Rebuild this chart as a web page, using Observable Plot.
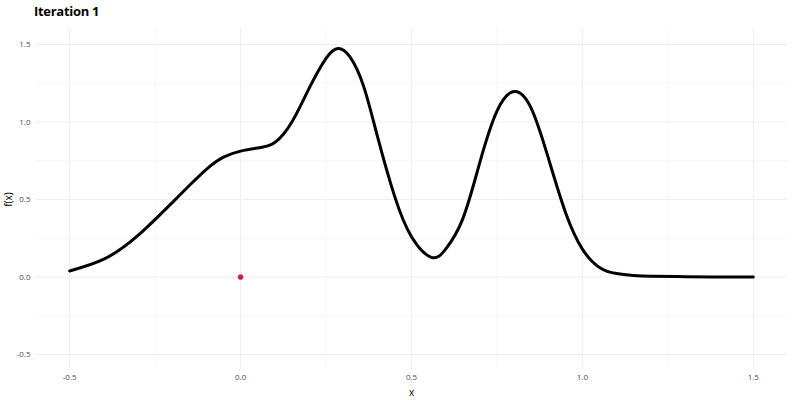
<!DOCTYPE html>
<html>
<head>
<meta charset="utf-8">
<script src="https://cdn.jsdelivr.net/npm/d3@7"></script>
<script src="https://cdn.jsdelivr.net/npm/@observablehq/plot@0.6"></script>
<style>
  html, body { margin: 0; padding: 0; background: #fff; }
  #title { font-family: "Open Sans", "Liberation Sans", sans-serif; font-weight: 700; font-size: 13px; height: 22px; line-height: 22px; padding-left: 34px; letter-spacing: -0.3px; color: #000; }
  svg { display: block; }
</style>
</head>
<body>
<div id="title">Iteration 1</div>
<div id="chart"></div>
<script>
// curve f(x)
const xs = [-0.5, -0.4, -0.3, -0.2, -0.15, -0.1, -0.05, 0.0, 0.05, 0.1, 0.15, 0.2, 0.25, 0.285, 0.32, 0.36, 0.4, 0.45, 0.5, 0.558, 0.6, 0.65, 0.7, 0.75, 0.8, 0.85, 0.9, 0.95, 1.0, 1.05, 1.1, 1.15, 1.2, 1.3, 1.4, 1.5];
const ys = [0.039, 0.115, 0.268, 0.48, 0.59, 0.695, 0.773, 0.812, 0.832, 0.868, 1.0, 1.215, 1.41, 1.474, 1.42, 1.23, 0.91, 0.525, 0.26, 0.127, 0.18, 0.375, 0.74, 1.07, 1.197, 1.09, 0.77, 0.42, 0.18, 0.062, 0.022, 0.01, 0.005, 0.002, 0.0005, 0.0];
// sampled point
const sampleX = [0.0];
const sampleY = [0.0];
// ticks
const xTicks = [-0.5, 0, 0.5, 1, 1.5];
const yTicks = [-0.5, 0, 0.5, 1, 1.5];
const xMinor = [-0.25, 0.25, 0.75, 1.25];
const yMinor = [-0.25, 0.25, 0.75, 1.25];

const curve = xs.map((x, i) => ({x, y: ys[i]}));
const pts = sampleX.map((x, i) => ({x, y: sampleY[i]}));
const fmt = d => d.toFixed(1);

const plot = Plot.plot({
  width: 800,
  height: 378,
  marginLeft: 35,
  marginRight: 13,
  marginTop: 6.5,
  marginBottom: 30.5,
  style: { fontFamily: "'Open Sans', 'Liberation Sans', sans-serif", background: "#fff" },
  x: { domain: [-0.6, 1.6] },
  y: { domain: [-0.6, 1.6] },
  marks: [
    Plot.ruleX(xMinor, { stroke: "#f2f2f2", strokeWidth: 0.6 }),
    Plot.ruleY(yMinor, { stroke: "#f2f2f2", strokeWidth: 0.6 }),
    Plot.ruleX(xTicks, { stroke: "#ececec", strokeWidth: 0.9 }),
    Plot.ruleY(yTicks, { stroke: "#ececec", strokeWidth: 0.9 }),
    Plot.axisX(xTicks, { tickSize: 0, tickPadding: 4, tickFormat: fmt, fontSize: 8, fill: "#4d4d4d", label: "x", labelAnchor: "center", labelArrow: "none", labelOffset: 26 }),
    Plot.axisY(yTicks, { tickSize: 0, tickPadding: 5, tickFormat: fmt, fontSize: 8, fill: "#4d4d4d", label: "f(x)", labelAnchor: "center", labelArrow: "none", labelOffset: 31 }),
    Plot.line(curve, { x: "x", y: "y", stroke: "#000", strokeWidth: 3, curve: "natural" }),
    Plot.dot(pts, { x: "x", y: "y", r: 2.6, fill: "#c41a5e", stroke: "#d0207a", strokeWidth: 0.5 })
  ]
});
document.getElementById("chart").appendChild(plot);
// axis title styling
plot.querySelectorAll("[aria-label='x-axis label'] text, [aria-label='y-axis label'] text").forEach(t => { t.setAttribute("fill", "#000"); t.setAttribute("font-size", "10"); });
</script>
</body>
</html>
